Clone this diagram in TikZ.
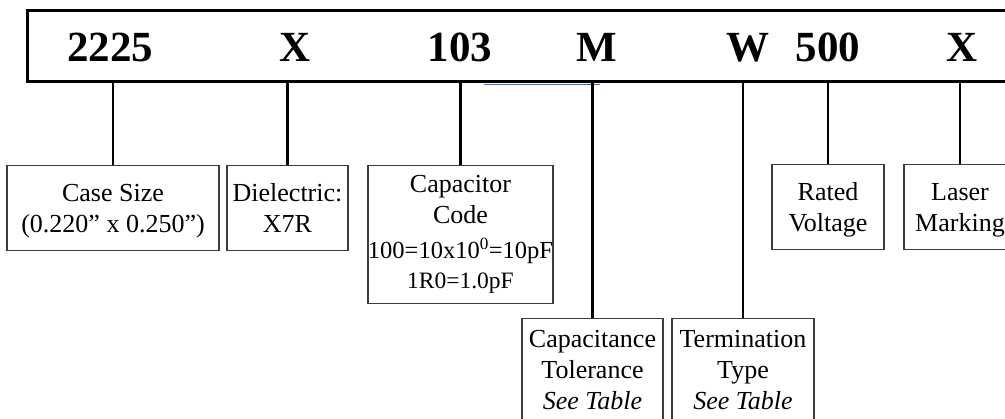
\documentclass[tikz,border=0pt]{standalone}
\usepackage{fontspec}
\setmainfont{Liberation Serif}
\usetikzlibrary{positioning}
\definecolor{boxline}{HTML}{3C3C3C}
\definecolor{stray}{HTML}{4A6A9C}

\tikzset{
  codebox/.style={draw=boxline, line width=1.1pt, align=center, inner sep=0pt,
    font=\fontsize{26}{31}\selectfont, anchor=north},
  twoline/.style={codebox, minimum height=85pt, text depth=-3pt},
  code/.style={font=\fontsize{43}{43}\selectfont\bfseries, anchor=base},
  lead/.style={line width=2.5pt}
}

\begin{document}
\begin{tikzpicture}[x=1pt, y=-1pt]
  \useasboundingbox (0,0) rectangle (1005,419);
  % part number bar
  \node[draw, line width=3pt, minimum width=1000pt, minimum height=71.5pt,
    anchor=north west, inner sep=0pt] (bar) at (25.5,9) {};
  \draw[stray, line width=1.2pt] (484,84.2) -- (600,84.2);
  \node[code] (size) at (110,62) {2225};
  \node[code] (diel) at (295,62) {X};
  \node[code] (cap) at (460,62) {103};
  \node[code] (tol) at (597,62) {M};
  \node[code] (term) at (748,62) {W};
  \node[code] (volt) at (828,62) {500};
  \node[code] (mark) at (962,62) {X};

  % description boxes
  \node[twoline, minimum width=212pt] (sizebox) at (113,165)
    {Case Size\\(0.220” x 0.250”)};
  \node[twoline, minimum width=121pt] (dielbox) at (287.5,165)
    {Dielectric:\\X7R};
  \node[codebox, minimum width=185pt, minimum height=138pt] (capbox) at (460.5,165)
    {Capacitor\\Code\\[4pt]
     \fontsize{24.5}{31}\selectfont 100=10x10\textsuperscript{0}=10pF\\[-1pt]
     \fontsize{23.5}{31}\selectfont 1R0=1.0pF};
  \node[codebox, minimum width=141pt, minimum height=110pt, text depth=8pt] (tolbox) at (592.5,318)
    {Capacitance\\Tolerance\\\textit{See Table}};
  \node[codebox, minimum width=142pt, minimum height=110pt, text depth=8pt] (termbox) at (743,318)
    {Termination\\Type\\\textit{See Table}};
  \node[twoline, minimum width=112pt] (voltbox) at (828,164)
    {Rated\\Voltage};
  \node[twoline, minimum width=112pt] (markbox) at (960,164)
    {Laser\\Marking};

  % leads
  \foreach \b in {sizebox, dielbox, capbox, tolbox, termbox, voltbox, markbox}
    \draw[lead] (bar.south -| \b.north) -- (\b.north);
\end{tikzpicture}
\end{document}
